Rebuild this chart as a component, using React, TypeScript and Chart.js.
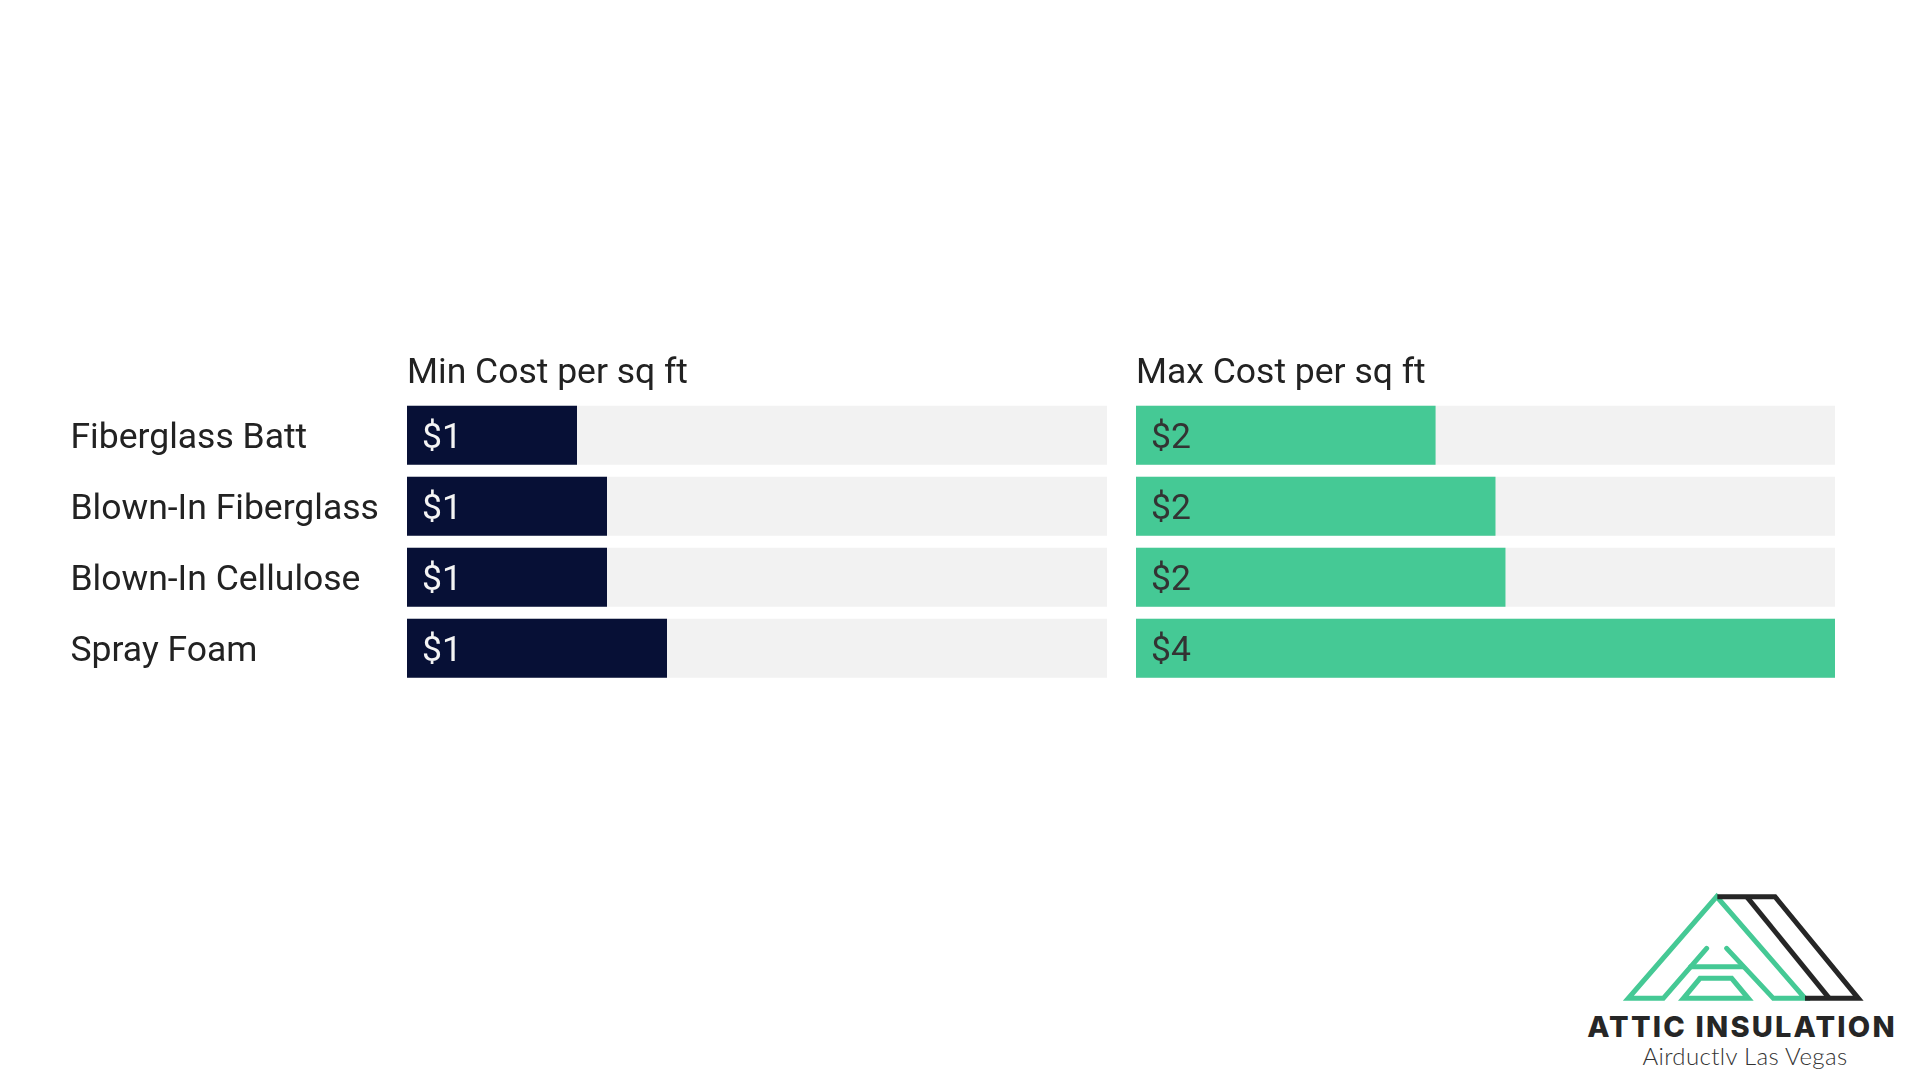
import React, { useEffect, useRef } from 'react';
import { Chart, registerables } from 'chart.js';

Chart.register(...registerables);

// ---------- data ----------
const categories = ['Fiberglass Batt', 'Blown-In Fiberglass', 'Blown-In Cellulose', 'Spray Foam'];
const minCost = [0.85, 1.0, 1.0, 1.3];
const maxCost = [1.5, 1.8, 1.85, 3.5];
const panelTitles = ['Min Cost per sq ft', 'Max Cost per sq ft'];
const logoTitle = 'ATTIC INSULATION';
const logoSubtitle = 'Airductlv Las Vegas';

const scaleMax = Math.max(...minCost, ...maxCost);

// ---------- styles / layout ----------
const FONT = 'Roboto';
const SIZE = 35.5;
const LINE_H = SIZE * 1.2;
const TEXT_DY = 3.5;
const CANVAS_TOP = 320;
const CANVAS_H = 370;
const AREA_TOP = 399.7;
const AREA_BOTTOM = AREA_TOP + 4 * 71;
const TITLE_PAD_BOTTOM = 4.4;
const TITLE_PAD_TOP = AREA_TOP - CANVAS_TOP - LINE_H - TITLE_PAD_BOTTOM;
const PAD_BOTTOM = CANVAS_TOP + CANVAS_H - AREA_BOTTOM;

const valueLabelPlugin = {
  id: 'valueLabels',
  afterDatasetsDraw(chart: any, _args: any, opts: any) {
    const ctx = chart.ctx;
    const meta = chart.getDatasetMeta(1);
    const values = chart.data.datasets[1].data as number[];
    ctx.save();
    ctx.font = `${SIZE}px ${FONT}`;
    ctx.fillStyle = opts.color;
    ctx.textAlign = 'left';
    ctx.textBaseline = 'middle';
    meta.data.forEach((el: any, i: number) => {
      const { base, y } = el.getProps(['base', 'y'], true);
      ctx.fillText('$' + Math.round(values[i]), base + 15, y + TEXT_DY);
    });
    ctx.restore();
  },
};

type PanelProps = {
  left: number;
  width: number;
  padLeft: number;
  padRight: number;
  axisWidth: number;
  title: string;
  values: number[];
  color: string;
  labelColor: string;
  showCategories: boolean;
};

function Panel(p: PanelProps) {
  const ref = useRef<HTMLCanvasElement>(null);
  useEffect(() => {
    const chart = new Chart(ref.current!, {
      type: 'bar',
      data: {
        labels: categories,
        datasets: [
          {
            label: 'track',
            data: categories.map(() => scaleMax),
            backgroundColor: '#f2f2f2',
            borderWidth: 0,
            grouped: false,
            order: 2,
            categoryPercentage: 1,
            barPercentage: 59 / 71,
          } as any,
          {
            label: p.title,
            data: p.values,
            backgroundColor: p.color,
            borderWidth: 0,
            grouped: false,
            order: 1,
            categoryPercentage: 1,
            barPercentage: 59 / 71,
          } as any,
        ],
      },
      options: {
        indexAxis: 'y',
        responsive: false,
        animation: false,
        events: [],
        layout: {
          padding: { left: p.padLeft, right: p.padRight, top: 0, bottom: PAD_BOTTOM },
        },
        plugins: {
          legend: { display: false },
          tooltip: { enabled: false },
          title: { display: false },
          valueLabels: { color: p.labelColor },
        } as any,
        scales: {
          x: {
            position: 'top',
            min: 0,
            max: scaleMax,
            grid: { display: false, drawTicks: false },
            border: { display: false },
            ticks: { display: false },
            title: {
              display: true,
              text: p.title,
              align: 'start',
              color: '#222222',
              font: { family: FONT, size: SIZE, lineHeight: 1.2 },
              padding: { top: TITLE_PAD_TOP, bottom: TITLE_PAD_BOTTOM },
            },
          },
          y: {
            display: p.showCategories,
            grid: { display: false, drawTicks: false },
            border: { display: false },
            ticks: {
              crossAlign: 'far',
              padding: 0,
              labelOffset: TEXT_DY,
              color: '#222222',
              font: { family: FONT, size: SIZE },
            },
            afterFit: (scale: any) => {
              scale.width = p.axisWidth;
              scale.paddingTop = 0;
              scale.paddingBottom = 0;
            },
          },
        },
      },
      plugins: [valueLabelPlugin],
    });
    return () => chart.destroy();
  }, []);
  return (
    <canvas
      ref={ref}
      width={p.width}
      height={CANVAS_H}
      style={{ position: 'absolute', left: p.left, top: CANVAS_TOP, width: p.width, height: CANVAS_H, display: 'block' }}
    />
  );
}

function Logo() {
  return (
    <>
      <svg
        style={{ position: 'absolute', left: 1560, top: 870 }}
        width={360}
        height={210}
        viewBox="0 0 1080 630"
      >
        <g fill="none" stroke="#45c995" strokeWidth={15} strokeLinejoin="miter" strokeLinecap="round">
          <polyline points="440,235 310,385 205,385 470,80 735,385 640,385 500,235" />
          <line x1={392} y1={290} x2={548} y2={290} />
          <polygon points="370,385 420,325 515,325 565,385" />
        </g>
        <g fill="none" stroke="#262626" strokeWidth={15} strokeLinejoin="miter">
          <polyline points="472,80 645,80 895,385 735,385" />
          <line x1={560} y1={80} x2={808} y2={385} />
        </g>
      </svg>
      <div
        style={{
          position: 'absolute',
          left: 1742,
          top: 1012,
          transform: 'translateX(-50%)',
          whiteSpace: 'nowrap',
          fontFamily: 'Inter',
          fontWeight: 800,
          fontSize: 29,
          lineHeight: '29px',
          letterSpacing: 2.2,
          color: '#262626',
        }}
      >
        {logoTitle}
      </div>
      <div
        style={{
          position: 'absolute',
          left: 1745,
          top: 1044,
          transform: 'translateX(-50%)',
          whiteSpace: 'nowrap',
          fontFamily: 'Lato',
          fontWeight: 300,
          fontSize: 24,
          lineHeight: '24px',
          letterSpacing: 0.35,
          color: '#333333',
        }}
      >
        {logoSubtitle}
      </div>
    </>
  );
}

export default function App() {
  return (
    <div
      style={{
        position: 'absolute',
        left: 0,
        top: 0,
        width: 1920,
        height: 1080,
        background: '#ffffff',
        overflow: 'hidden',
      }}
    >
      <Panel
        left={0}
        width={1120}
        padLeft={70.5}
        padRight={13}
        axisWidth={336.5}
        title={panelTitles[0]}
        values={minCost}
        color="#071036"
        labelColor="#f4f4f4"
        showCategories={true}
      />
      <Panel
        left={1120}
        width={730}
        padLeft={16}
        padRight={15}
        axisWidth={0}
        title={panelTitles[1]}
        values={maxCost}
        color="#45c995"
        labelColor="#333333"
        showCategories={false}
      />
      <Logo />
    </div>
  );
}
